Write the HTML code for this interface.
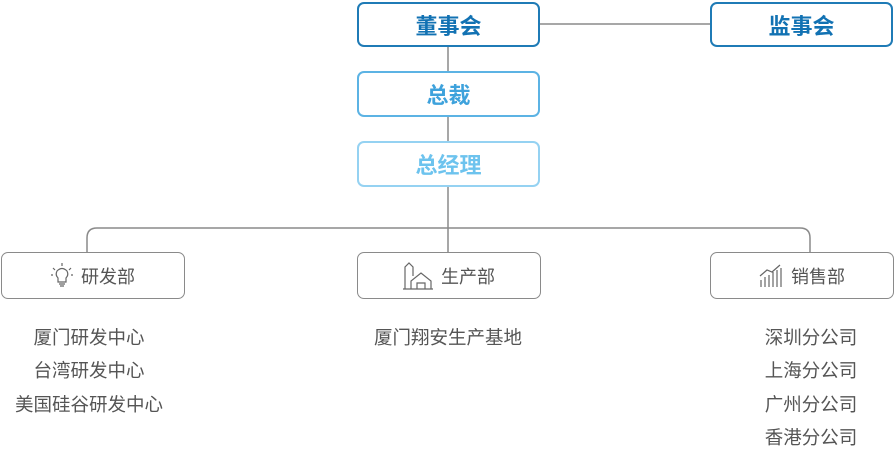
<!DOCTYPE html>
<html><head><meta charset="utf-8"><style>
body{margin:0;width:896px;height:455px;background:#fff;position:relative;overflow:hidden;font-family:"Liberation Sans","Noto Sans CJK SC",sans-serif}
.b{position:absolute;box-sizing:border-box;border-radius:7px;background:#fff;display:flex;align-items:center;justify-content:center}
.top{font-size:22px;font-weight:bold}
.d{border:1.5px solid #8a8a8a;color:#555;font-size:18px;top:252px;height:47px;width:184px}
.t{position:absolute;font-size:18.5px;color:#555;white-space:nowrap;transform:translateX(-50%);line-height:22px}
svg.i{margin-right:8px}
</style></head><body>
<svg width="896" height="455" style="position:absolute;left:0;top:0">
<g stroke="#8a8a8a" stroke-width="1.5" fill="none">
<line x1="540" y1="24" x2="710" y2="24"/>
<line x1="448" y1="46" x2="448" y2="252"/>
<path d="M87 252 V238 Q87 228 97 228 H800 Q810 228 810 238 V252"/>
</g></svg>
<div class="b top" style="left:357px;top:2px;width:183px;height:45px;border:2px solid #1f7bb6;color:#1272b3">董事会</div>
<div class="b top" style="left:710px;top:2px;width:183px;height:45px;border:2px solid #1f7bb6;color:#1272b3">监事会</div>
<div class="b top" style="left:357px;top:71px;width:183px;height:46px;border:2px solid #5cb3e4;color:#3ea2dc">总裁</div>
<div class="b top" style="left:357px;top:141px;width:183px;height:46px;border:2px solid #95d2f2;color:#6dc3ee">总经理</div>
<div class="b d" style="left:1px"><svg class="i" width="22" height="26" viewBox="0 0 22 26" fill="none" stroke="#666" stroke-width="1.2"><path d="M7 15 Q4 12 6 8 Q11 3 16 8 Q18 12 15 15 V19 H7 Z"/><path d="M8 21 H14 M9 23 H13"/><path d="M11 0 V3 M2 5 L4 7 M20 5 L18 7 M0 12 H2 M20 12 H22"/></svg>研发部</div>
<div class="b d" style="left:357px"><svg class="i" width="30" height="28" viewBox="0 0 30 28" fill="none" stroke="#666" stroke-width="1.2"><path d="M2 27 V5 L6 1 L10 5 V14"/><path d="M8 27 V19 L18 11 L28 19 V27 M0 27 H30 M14 27 V21 H22 V27"/></svg>生产部</div>
<div class="b d" style="left:710px"><svg class="i" width="24" height="24" viewBox="0 0 24 24" fill="none" stroke="#666" stroke-width="1.2"><path d="M2 23 V16 M6 23 V13 M10 23 V11 M14 23 V8 M18 23 V6 M22 23 V4"/><path d="M1 12 L8 6 L13 8 L21 1"/></svg>销售部</div>
<div class="t" style="left:89px;top:327px">厦门研发中心</div>
<div class="t" style="left:89px;top:360px">台湾研发中心</div>
<div class="t" style="left:89px;top:394px">美国硅谷研发中心</div>
<div class="t" style="left:448px;top:327px">厦门翔安生产基地</div>
<div class="t" style="left:811px;top:327px">深圳分公司</div>
<div class="t" style="left:811px;top:360px">上海分公司</div>
<div class="t" style="left:811px;top:394px">广州分公司</div>
<div class="t" style="left:811px;top:427px">香港分公司</div>
</body></html>
